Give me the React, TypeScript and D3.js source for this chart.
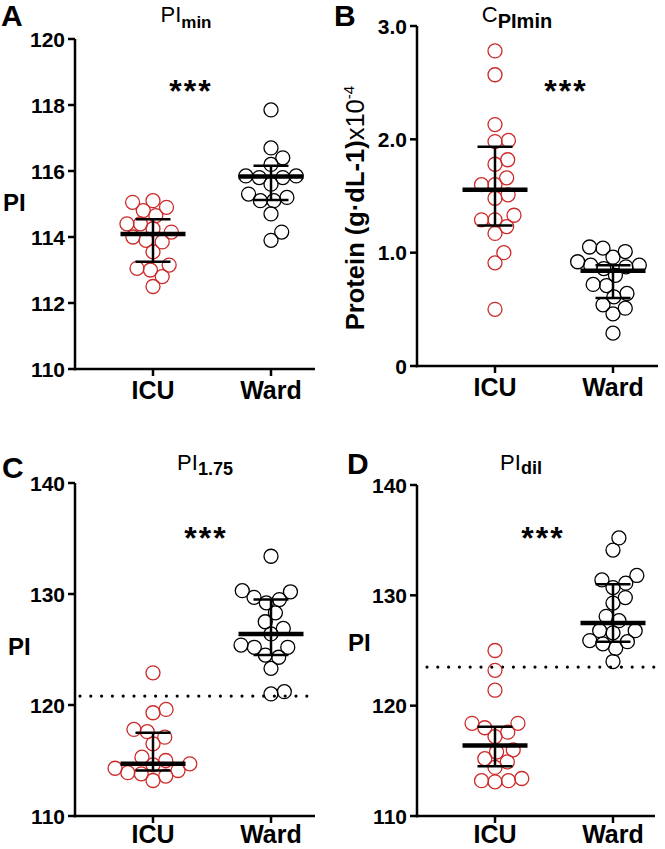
import React from 'react';
import * as d3 from 'd3';

const groups = ['ICU', 'Ward'];

// Panel A: PI_min
const piMinICU = [112.5, 112.8, 113.0, 113.05, 113.15, 113.55, 113.85, 113.9, 114.0, 114.15, 114.25, 114.4, 114.4, 114.65, 114.8, 114.9, 115.05, 115.1];
const piMinWard = [113.9, 114.15, 114.7, 115.1, 115.1, 115.2, 115.3, 115.6, 115.8, 115.8, 115.85, 115.85, 116.2, 116.4, 116.7, 117.85];
const piMinICUStats = [113.25, 114.09, 114.54];
const piMinWardStats = [115.12, 115.83, 116.16];

// Panel B: C at PI_min (protein)
const cpiICU = [0.5, 0.91, 1.0, 1.17, 1.23, 1.29, 1.29, 1.33, 1.48, 1.51, 1.6, 1.6, 1.66, 1.78, 1.82, 1.98, 1.99, 2.13, 2.57, 2.78];
const cpiWard = [0.29, 0.46, 0.51, 0.54, 0.61, 0.64, 0.71, 0.72, 0.8, 0.86, 0.875, 0.89, 0.92, 0.96, 1.01, 1.04, 1.05, 0.89];
const cpiICUStats = [1.24, 1.555, 1.935];
const cpiWardStats = [0.6, 0.84, 0.89];

// Panel C: PI_1.75
const pi175ICU = [113.2, 113.6, 113.8, 113.9, 114.1, 114.3, 114.6, 114.7, 115.0, 115.3, 116.5, 117.1, 117.6, 117.8, 119.3, 119.6, 122.9];
const pi175Ward = [121.0, 121.2, 123.3, 124.3, 124.5, 125.2, 125.2, 125.4, 126.4, 126.9, 127.5, 128.3, 129.2, 129.5, 129.7, 130.2, 130.3, 133.4];
const pi175ICUStats = [114.1, 114.7, 117.5];
const pi175WardStats = [124.5, 126.4, 129.5];
const pi175Cutoff = 120.8;

// Panel D: PI_dil
const piDilICU = [113.1, 113.2, 113.2, 113.4, 114.4, 114.9, 115.2, 115.8, 116.0, 117.2, 117.6, 118.0, 118.4, 118.4, 121.4, 123.2, 125.0];
const piDilWard = [124.0, 125.2, 125.6, 125.8, 125.9, 126.6, 126.8, 126.8, 127.7, 128.1, 129.3, 129.8, 130.7, 131.1, 131.4, 131.8, 134.1, 135.2];
const piDilICUStats = [114.5, 116.4, 118.1];
const piDilWardStats = [125.8, 127.5, 131.0];
const piDilCutoff = 123.5;

const ticksPI10 = [110, 112, 114, 116, 118, 120];
const ticksProtein = [0, 1, 2, 3];
const proteinTickLabels = ['0', '1.0', '2.0', '3.0'];
const ticksPI30 = [110, 120, 130, 140];

const FONT = "Arial, 'Liberation Sans', Helvetica, sans-serif";
const RED = '#cc2a2a';

function swarm(vals: number[], y: (v: number) => number, d: number) {
  const placed: { x: number; y: number }[] = [];
  const sorted = [...vals].sort((a, b) => a - b);
  for (const v of sorted) {
    const py = y(v);
    const cands = [0];
    for (const p of placed) {
      const dy = Math.abs(p.y - py);
      if (dy < d) {
        const dx = Math.sqrt(d * d - dy * dy);
        cands.push(p.x + dx, p.x - dx);
      }
    }
    cands.sort((a, b) => Math.abs(a) - Math.abs(b));
    const ok = cands.find((c) => placed.every((p) => (p.x - c) ** 2 + (p.y - py) ** 2 >= d * d - 0.01));
    placed.push({ x: ok ?? 0, y: py });
  }
  return placed;
}

type PanelProps = {
  axisX: number;
  yTop: number;
  yBottom: number;
  xEnd: number;
  domain: [number, number];
  ticks: number[];
  tickLabels?: string[];
  series: { vals: number[]; stats: number[]; color: string }[];
  cutoff?: number;
  cutoffStart?: number;
  labelOffset?: number;
};

function Panel(p: PanelProps) {
  const y = d3.scaleLinear().domain(p.domain).range([p.yBottom, p.yTop]);
  const x = d3.scalePoint<string>().domain(groups).range([p.axisX + 78, p.axisX + 196]);
  return (
    <g>
      {p.cutoff !== undefined && (
        <line
          x1={p.cutoffStart ?? p.axisX + 10}
          x2={p.xEnd}
          y1={y(p.cutoff)}
          y2={y(p.cutoff)}
          stroke="#000"
          strokeWidth={3.2}
          strokeDasharray="0 10.8"
          strokeLinecap="round"
        />
      )}
      {p.series.map((s, i) => {
        const cx = x(groups[i])!;
        const pts = swarm(s.vals, y, 13.5);
        const [q1, med, q3] = s.stats;
        return (
          <g key={i}>
            {pts.map((pt, j) => (
              <circle key={j} cx={cx + pt.x} cy={pt.y} r={7} fill="none" stroke={s.color} strokeWidth={1.3} />
            ))}
            <line x1={cx} x2={cx} y1={y(q1)} y2={y(q3)} stroke="#000" strokeWidth={2.5} />
            <line x1={cx - 17.5} x2={cx + 17.5} y1={y(q1)} y2={y(q1)} stroke="#000" strokeWidth={2.5} />
            <line x1={cx - 17.5} x2={cx + 17.5} y1={y(q3)} y2={y(q3)} stroke="#000" strokeWidth={2.5} />
            <line x1={cx - 32.5} x2={cx + 32.5} y1={y(med)} y2={y(med)} stroke="#000" strokeWidth={4.5} />
          </g>
        );
      })}
      <line x1={p.axisX} x2={p.axisX} y1={p.yTop} y2={p.yBottom + 1.25} stroke="#000" strokeWidth={2.5} />
      <line x1={p.axisX - 1.25} x2={p.xEnd} y1={p.yBottom} y2={p.yBottom} stroke="#000" strokeWidth={2.5} />
      {p.ticks.map((t, i) => (
        <g key={t}>
          <line x1={p.axisX - 7} x2={p.axisX} y1={y(t)} y2={y(t)} stroke="#000" strokeWidth={2.5} />
          <text
            x={p.axisX - 10}
            y={y(t)}
            dy="0.36em"
            textAnchor="end"
            fontSize={21}
            fontWeight="bold"
            fontFamily={FONT}
          >
            {p.tickLabels ? p.tickLabels[i] : String(t)}
          </text>
        </g>
      ))}
      {groups.map((g) => (
        <g key={g}>
          <line x1={x(g)} x2={x(g)} y1={p.yBottom} y2={p.yBottom + 7} stroke="#000" strokeWidth={2.5} />
          <text x={x(g)} y={p.yBottom + (p.labelOffset ?? 30)} textAnchor="middle" fontSize={25} fontWeight="bold" fontFamily={FONT}>
            {g}
          </text>
        </g>
      ))}
    </g>
  );
}

export default function App() {
  return (
    <svg
      width={665}
      height={849}
      style={{ position: 'absolute', left: 0, top: 0, background: '#fff' }}
      fontFamily={FONT}
    >
      <rect width={665} height={849} fill="#fff" />
      {/* Panel A */}
      <text x={1} y={26} fontSize={30} fontWeight="bold">A</text>
      <text x={186} y={22} textAnchor="middle" fontSize={22}>
        PI<tspan dy={6} fontSize={17} fontWeight="bold">min</tspan>
      </text>
      <text x={3} y={211} fontSize={24} fontWeight="bold">PI</text>
      <text x={191} y={102} textAnchor="middle" fontSize={32} fontWeight="bold" letterSpacing={2}>***</text>
      <Panel
        axisX={75}
        yTop={39}
        yBottom={369}
        xEnd={315}
        domain={[110, 120]}
        ticks={ticksPI10}
        series={[
          { vals: piMinICU, stats: piMinICUStats, color: RED },
          { vals: piMinWard, stats: piMinWardStats, color: '#000' },
        ]}
      />

      {/* Panel B */}
      <text x={334} y={26} fontSize={30} fontWeight="bold">B</text>
      <text x={517} y={22} textAnchor="middle" fontSize={22}>
        C<tspan dy={6} fontSize={20} fontWeight="bold">PImin</tspan>
      </text>
      <text transform="translate(364,208) rotate(-90)" textAnchor="middle" fontSize={25.5}>
        <tspan fontWeight="bold">Protein (g·dL-1)</tspan>
        <tspan>x10</tspan>
        <tspan dy={-10} fontSize={15}>-4</tspan>
      </text>
      <text x={566} y={102} textAnchor="middle" fontSize={32} fontWeight="bold" letterSpacing={2}>***</text>
      <Panel
        axisX={417}
        yTop={26}
        yBottom={366}
        xEnd={658}
        domain={[0, 3]}
        ticks={ticksProtein}
        tickLabels={proteinTickLabels}
        series={[
          { vals: cpiICU, stats: cpiICUStats, color: RED },
          { vals: cpiWard, stats: cpiWardStats, color: '#000' },
        ]}
      />

      {/* Panel C */}
      <text x={2} y={478} fontSize={30} fontWeight="bold">C</text>
      <text x={205} y={470} textAnchor="middle" fontSize={22}>
        PI<tspan dy={5} fontSize={18} fontWeight="bold">1.75</tspan>
      </text>
      <text x={8} y={655} fontSize={24} fontWeight="bold">PI</text>
      <text x={206} y={549} textAnchor="middle" fontSize={32} fontWeight="bold" letterSpacing={2}>***</text>
      <Panel
        axisX={75}
        yTop={483}
        yBottom={816}
        xEnd={315}
        domain={[110, 140]}
        ticks={ticksPI30}
        series={[
          { vals: pi175ICU, stats: pi175ICUStats, color: RED },
          { vals: pi175Ward, stats: pi175WardStats, color: '#000' },
        ]}
        cutoff={pi175Cutoff}
        cutoffStart={80}
        labelOffset={27}
      />

      {/* Panel D */}
      <text x={347} y={474} fontSize={30} fontWeight="bold">D</text>
      <text x={521} y={470} textAnchor="middle" fontSize={22}>
        PI<tspan dy={4} fontSize={18} fontWeight="bold">dil</tspan>
      </text>
      <text x={348} y={651} fontSize={24} fontWeight="bold">PI</text>
      <text x={543} y={549} textAnchor="middle" fontSize={32} fontWeight="bold" letterSpacing={2}>***</text>
      <Panel
        axisX={417}
        yTop={485}
        yBottom={816}
        xEnd={655}
        domain={[110, 140]}
        ticks={ticksPI30}
        series={[
          { vals: piDilICU, stats: piDilICUStats, color: RED },
          { vals: piDilWard, stats: piDilWardStats, color: '#000' },
        ]}
        cutoff={piDilCutoff}
        cutoffStart={427}
        labelOffset={27}
      />
    </svg>
  );
}
